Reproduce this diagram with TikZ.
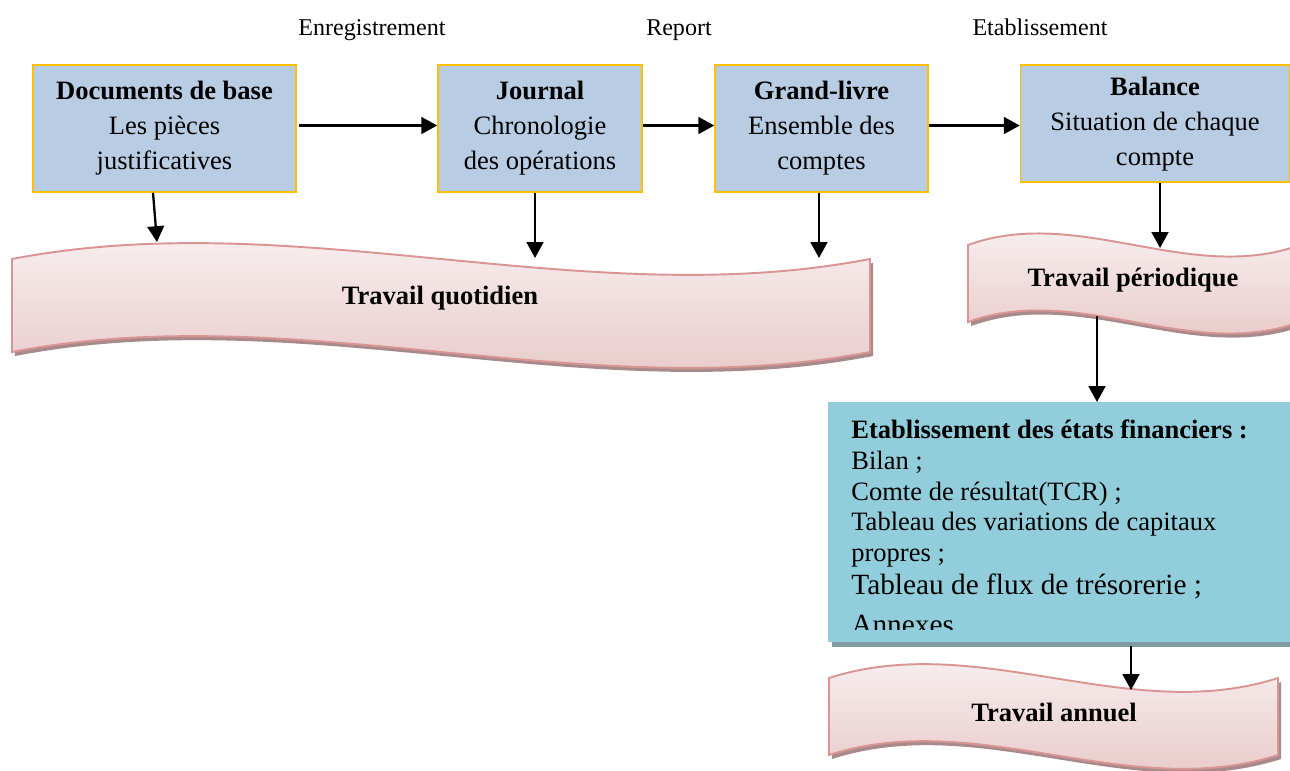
\documentclass[tikz,border=0pt]{standalone}
\usepackage{fontspec}
\setmainfont{Liberation Serif}
\usetikzlibrary{arrows.meta,shadows}
\definecolor{boxblue}{HTML}{B8CCE4}
\definecolor{boxgold}{HTML}{FFC000}
\definecolor{etatblue}{HTML}{92CDDC}
\definecolor{etatshadow}{HTML}{7F9AA3}
\definecolor{bannerline}{HTML}{D99594}
\definecolor{bannertop}{HTML}{FBF6F6}
\definecolor{bannerbot}{HTML}{E6C3C3}
\definecolor{bannershadow}{HTML}{A88A8C}
\tikzset{font=\fontsize{15.1}{19.9}\selectfont}
\tikzstyle{etape}=[draw=boxgold,line width=0.9pt,fill=boxblue,align=center,inner sep=0pt]
\tikzstyle{fleche}=[line width=1.3pt,-{Triangle[length=9pt,width=9.5pt]}]
\tikzstyle{libelle}=[inner sep=0pt,anchor=base,font=\fontsize{13.7}{16}\selectfont]
\tikzstyle{banniere}=[draw=bannerline,line width=1.1pt,top color=bannertop,bottom color=bannerbot,drop shadow={shadow xshift=1.7pt,shadow yshift=-2.3pt,fill=bannershadow,opacity=1}]
\tikzstyle{titre}=[inner sep=0pt,font=\fontsize{15.1}{18}\selectfont\bfseries]
\tikzstyle{etatbox}=[fill=etatblue,inner sep=0pt,drop shadow={shadow xshift=2.3pt,shadow yshift=-2.8pt,fill=etatshadow,opacity=1}]
\tikzstyle{etattexte}=[inner sep=0pt,align=left,font=\fontsize{15.1}{17.5}\selectfont]
% wave banner: left, right, top, bottom, bend
\newcommand{\vague}[5]{%
  \draw[banniere] (#1,#3) .. controls ({#1+(#2-#1)/3},{#3-#5}) and ({#1+2*(#2-#1)/3},{#3+#5}) .. (#2,#3)
    -- (#2,#4) .. controls ({#1+2*(#2-#1)/3},{#4+#5}) and ({#1+(#2-#1)/3},{#4-#5}) .. (#1,#4) -- cycle;}

\begin{document}
\begin{tikzpicture}[x=0.02cm,y=-0.02cm]
  \useasboundingbox (0,0) rectangle (1290,770);
  % steps
  \node[etape,minimum width=5.26cm,minimum height=2.54cm] (docs) at (164.5,128.5) {\textbf{Documents de base}\\Les pièces\\justificatives};
  \node[etape,minimum width=4.08cm,minimum height=2.54cm] (journal) at (540,128.5) {\textbf{Journal}\\Chronologie\\des opérations};
  \node[etape,minimum width=4.26cm,minimum height=2.54cm] (grand) at (821.5,128.5) {\textbf{Grand-livre}\\Ensemble des\\comptes};
  \node[etape,minimum width=5.38cm,minimum height=2.34cm,text depth=0.1cm] (balance) at (1155,123.5) {\textbf{Balance}\\Situation de chaque\\compte};
  \node[libelle] (enreg) at (372,36) {Enregistrement};
  \node[libelle] (report) at (679,36) {Report};
  \node[libelle] (etabl) at (1040,36) {Etablissement};

  % banners
  \vague{12}{870}{259}{352}{55}
  \node[titre] (quotidien) at (440,298) {Travail quotidien};
  \vague{968}{1300}{245}{322}{40}
  \node[titre] (periodique) at (1133,280) {Travail périodique};
  \vague{829}{1278}{678}{755}{48}
  \node[titre] (annuel) at (1054,712) {Travail annuel};

  % financial statements
  \node[etatbox,minimum width=9.3cm,minimum height=4.8cm,anchor=north west] (etats) at (828,402) {};
  \begin{scope}
    \clip (828,402) rectangle (1290,629);
    \node[etattexte,anchor=north west] (etatstxt) at (851,419.5) {{\bfseries Etablissement des états financiers :}\\
      Bilan ;\\
      Comte de résultat(TCR) ;\\
      Tableau des variations de capitaux\\
      propres ;\\[1.5pt]
      {\fontsize{16.7}{19}\selectfont Tableau de flux de trésorerie ;}\\[5pt]
      {\fontsize{16.7}{19}\selectfont Annexes.}};
  \end{scope}

  % arrows
  \draw[fleche] ([shift={(1.5pt,1.7pt)}]docs.east) -- ([yshift=1.7pt]journal.west);
  \draw[fleche] ([yshift=1.7pt]journal.east) -- ([yshift=1.7pt]grand.west);
  \draw[fleche] ([yshift=1.7pt]grand.east) -- ([yshift=1.7pt]grand.east -| balance.west);
  \coordinate (q1) at (157,242);
  \coordinate (q2) at (535,258);
  \coordinate (q3) at (819,258);
  \coordinate (p1) at (1160,248);
  \coordinate (p2) at (1097,316);
  \coordinate (a1) at (1131,690);
  \draw[fleche] ([xshift=-0.23cm]docs.south) -- (q1);
  \draw[fleche] (journal.south -| q2) -- (q2);
  \draw[fleche] (grand.south -| q3) -- (q3);
  \draw[fleche] (balance.south -| p1) -- (p1);
  \draw[fleche] (p2) -- (p2 |- etats.north);
  \draw[fleche] ([yshift=-1.7pt]etats.south -| a1) -- (a1);
\end{tikzpicture}
\end{document}
